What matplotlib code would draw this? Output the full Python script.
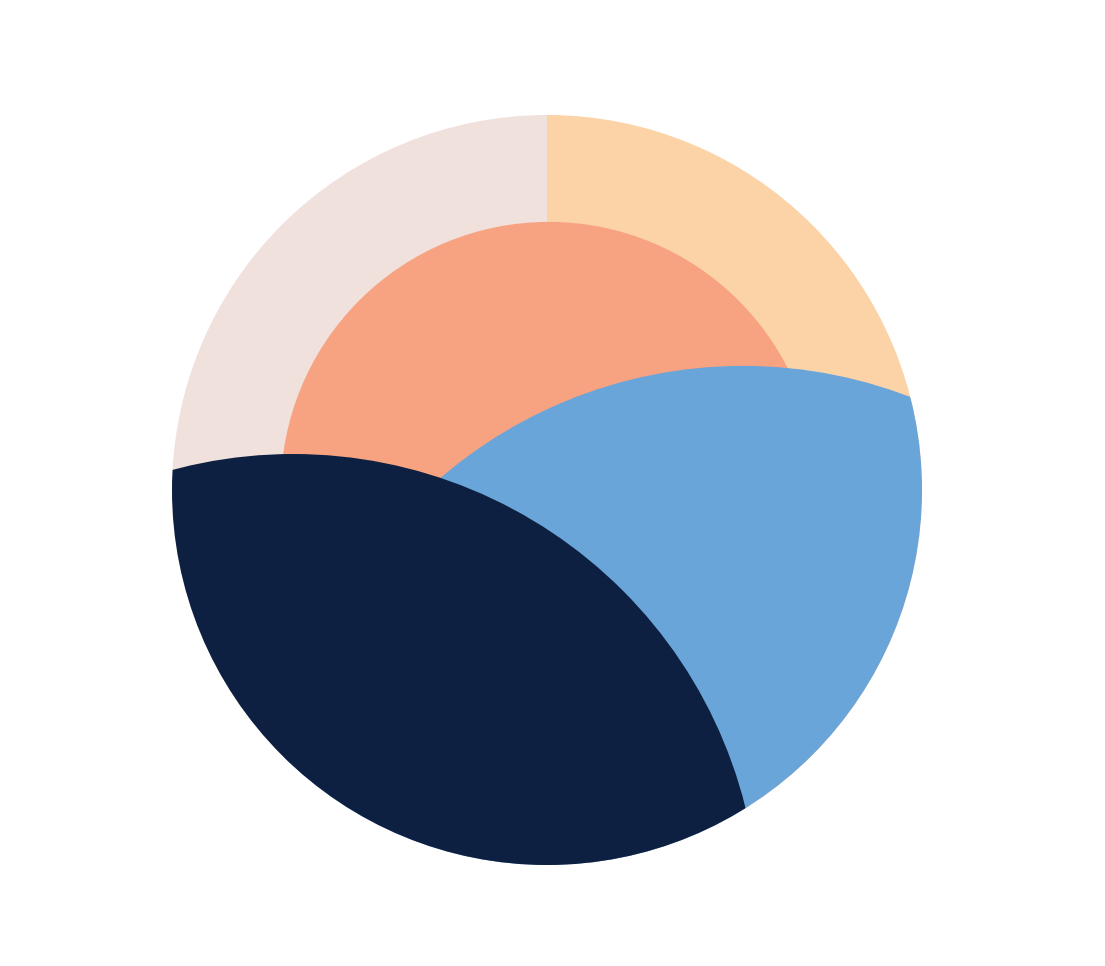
import matplotlib
matplotlib.use("Agg")
import matplotlib.pyplot as plt
from matplotlib.patches import Circle

# Outer ring: two halves
ring_labels = ["East", "West"]
ring_values = [50, 50]
ring_colors = ["#FBD3A7", "#F0E1DD"]

# Overlaid discs (centre offsets and radii in units of the outer radius)
disc_names = ["core", "sky", "night"]
disc_cx = [0.005, 0.523, -0.677]
disc_cy = [0.0, -0.909, -1.147]
disc_r = [0.715, 1.240, 1.243]
disc_colors = ["#F7A381", "#6AA5DA", "#0E2041"]

fig = plt.figure(figsize=(11.05, 9.66), dpi=100)
ax = fig.add_axes([0, 0, 1, 1])

wedges, _ = ax.pie(ring_values, colors=ring_colors, startangle=90,
                   counterclock=False, radius=1.0,
                   wedgeprops=dict(linewidth=0, edgecolor="none"))

clip = Circle((0, 0), 1.0, transform=ax.transData)
for cx, cy, r, c in zip(disc_cx, disc_cy, disc_r, disc_colors):
    p = Circle((cx, cy), r, facecolor=c, edgecolor="none", linewidth=0)
    ax.add_patch(p)
    p.set_clip_path(clip)

ax.set_aspect("equal")
ax.set_xlim(-547 / 375, (1105 - 547) / 375)
ax.set_ylim(-(966 - 490) / 375, 490 / 375)
ax.axis("off")

fig.savefig("out.png", dpi=100, facecolor="white")
